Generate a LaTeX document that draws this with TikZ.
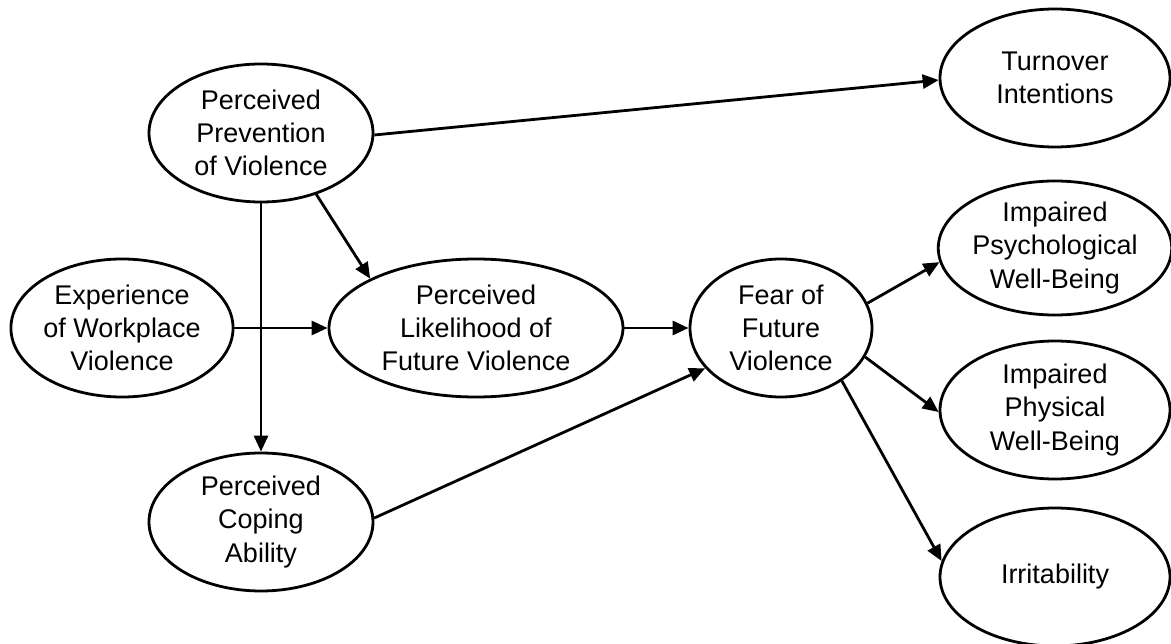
\documentclass[tikz,border=0pt]{standalone}
\usepackage{fontspec}
\setmainfont{Liberation Sans}
\usetikzlibrary{shapes.geometric,arrows.meta}
\tikzset{
  var/.style={ellipse, draw, line width=2.8pt, inner sep=0pt,
    minimum width=224pt, minimum height=138pt, align=center,
    font=\fontsize{27}{33.3}\selectfont},
  link/.style={line width=2.8pt, -{Triangle[length=16pt,width=14pt]}}
}
\begin{document}
\begin{tikzpicture}[x=1pt,y=-1pt]
  \useasboundingbox (0,0) rectangle (1171,644);
  % constructs
  \node[var] (prev) at (261,133) {Perceived\\Prevention\\of Violence};
  \node[var, minimum width=230pt] (turn) at (1055,78) {Turnover\\Intentions};
  \node[var, minimum width=222pt] (exp) at (122,328) {Experience\\of Workplace\\Violence};
  \node[var, minimum width=294pt] (lik) at (476,328) {Perceived\\Likelihood of\\Future Violence};
  \node[var, minimum width=182pt] (fear) at (781,328) {Fear of\\Future\\Violence};
  \node[var, minimum width=230pt, minimum height=134pt] (psy) at (1055,248) {Impaired\\Psychological\\Well-Being};
  \node[var, minimum width=230pt] (phy) at (1055,410) {Impaired\\Physical\\Well-Being};
  \node[var, minimum width=230pt] (irr) at (1055,577) {Irritability};
  \node[var] (cope) at (261,522) {Perceived\\Coping\\Ability};
  % paths
  \draw[link] (prev.-1) -- (turn.181);
  \draw[link] (prev.-48) -- (lik.155.6);
  \draw[link] (prev) -- (cope);
  \draw[link] (exp) -- (lik);
  \draw[link] (lik) -- (fear);
  \draw[link] (cope.2) -- (fear.208);
  \draw[link] (fear.16) -- (psy.187);
  \draw[link] (fear.-19) -- (phy.181);
  \draw[link] (fear.-41.6) -- (irr.172.5);
\end{tikzpicture}
\end{document}
